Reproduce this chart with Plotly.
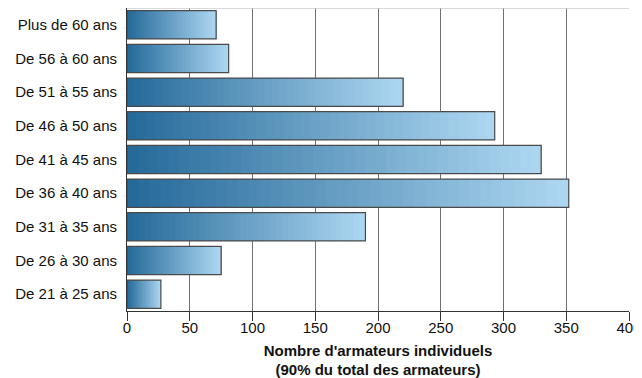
import plotly.graph_objects as go

categories = ["Plus de 60 ans", "De 56 à 60 ans", "De 51 à 55 ans", "De 46 à 50 ans",
              "De 41 à 45 ans", "De 36 à 40 ans", "De 31 à 35 ans", "De 26 à 30 ans",
              "De 21 à 25 ans"]
values = [71, 81, 220, 293, 330, 352, 190, 75, 27]
x_ticks = [0, 50, 100, 150, 200, 250, 300, 350, 400]

dark = (38, 106, 154)
light = (172, 214, 240)
N = 40
BAR_W = 0.84

fig = go.Figure()
for k in range(N):
    t = k / (N - 1)
    c = tuple(round(dark[i] + (light[i] - dark[i]) * t) for i in range(3))
    fig.add_trace(go.Bar(
        y=categories,
        x=[v * (1 - k / N) for v in values],
        base=[v * k / N for v in values],
        orientation="h",
        width=BAR_W,
        marker=dict(color="rgb(%d,%d,%d)" % c, line=dict(width=0)),
        hoverinfo="skip",
        showlegend=False,
    ))
fig.add_trace(go.Bar(
    y=categories,
    x=values,
    orientation="h",
    width=BAR_W,
    marker=dict(color="rgba(0,0,0,0)", line=dict(color="#4a4a4a", width=1.2)),
    showlegend=False,
))

# page body has an 8px margin, so the figure is offset by (8, 8)
fig.update_layout(
    width=634, height=370,
    margin=dict(l=119, r=13, t=0, b=67),
    barmode="overlay",
    plot_bgcolor="white",
    paper_bgcolor="white",
    font=dict(family="Liberation Sans, Arial, sans-serif", size=15, color="#111"),
    xaxis=dict(
        range=[0, 400], tickvals=x_ticks, showgrid=True, gridcolor="#707070", gridwidth=1,
        zeroline=False, showline=True, linecolor="#333", linewidth=1,
        ticks="outside", ticklen=9, tickcolor="#333", automargin=False,
        tickfont=dict(size=15), ticklabelstandoff=-6,
        title=dict(text="<b>Nombre d'armateurs individuels<br>(90% du total des armateurs)</b>",
                   font=dict(size=15), standoff=10),
    ),
    yaxis=dict(
        autorange="reversed", showgrid=False, showline=True, linecolor="#333", linewidth=1,
        ticks="", ticklabelstandoff=6, automargin=False, tickfont=dict(size=15),
    ),
    shapes=[dict(type="line", xref="paper", yref="paper", x0=0, x1=1, y0=1, y1=1,
                 line=dict(color="#cccccc", width=1.5))],
)

fig.write_html("out.html")
